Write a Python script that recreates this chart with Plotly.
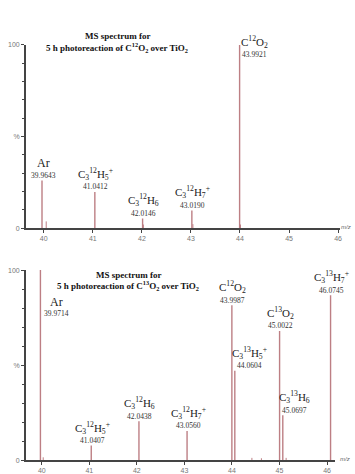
import plotly.graph_objects as go

# ---- data: 5 h photoreaction over TiO2, C12O2 feed (upper spectrum) ----
top_mz = [39.9643, 41.0412, 42.0146, 43.0190, 43.9921]
top_int = [26.0, 19.8, 5.3, 9.7, 100.0]
top_ions = [
    "Ar",
    "C<sub>3</sub><sup>12</sup>H<sub>5</sub><sup>+</sup>",
    "C<sub>3</sub><sup>12</sup>H<sub>6</sub>",
    "C<sub>3</sub><sup>12</sup>H<sub>7</sub><sup>+</sup>",
    "C<sup>12</sup>O<sub>2</sub>",
]
top_minor_mz = [40.05, 42.03, 43.04, 44.01]
top_minor_int = [3.7, 2.0, 2.2, 2.0]

# ---- data: C13O2 feed (lower spectrum) ----
bot_mz = [39.9714, 41.0407, 42.0438, 43.0560, 43.9987, 44.0604, 45.0022, 45.0697, 46.0745]
bot_int = [100.0, 7.7, 20.5, 15.4, 81.5, 47.0, 68.0, 23.6, 86.7]
bot_ions = [
    "Ar",
    "C<sub>3</sub><sup>12</sup>H<sub>5</sub><sup>+</sup>",
    "C<sub>3</sub><sup>12</sup>H<sub>6</sub>",
    "C<sub>3</sub><sup>12</sup>H<sub>7</sub><sup>+</sup>",
    "C<sup>12</sup>O<sub>2</sub>",
    "C<sub>3</sub><sup>13</sup>H<sub>5</sub><sup>+</sup>",
    "C<sup>13</sup>O<sub>2</sub>",
    "C<sub>3</sub><sup>13</sup>H<sub>6</sub>",
    "C<sub>3</sub><sup>13</sup>H<sub>7</sub><sup>+</sup>",
]
bot_minor_mz = [40.03, 44.42, 44.62, 45.14]
bot_minor_int = [1.5, 1.2, 1.0, 1.2]

x_ticks = [40, 41, 42, 43, 44, 45, 46]

W, H = 355, 474
PEAK = "#bd7f84"
AXIS = "#444444"
SERIF = "Liberation Serif"


def stems(xs, ys):
    px, py = [], []
    for x, y in zip(xs, ys):
        px += [x, x, None]
        py += [0, y, None]
    return px, py


fig = go.Figure()

for xs, ys, xa, ya, w in [
    (top_mz, top_int, "x", "y", 1.4),
    (top_minor_mz, top_minor_int, "x", "y", 1.0),
    (bot_mz, bot_int, "x2", "y2", 1.4),
    (bot_minor_mz, bot_minor_int, "x2", "y2", 1.0),
]:
    px, py = stems(xs, ys)
    fig.add_trace(go.Scatter(x=px, y=py, mode="lines", xaxis=xa, yaxis=ya,
                             line=dict(color=PEAK, width=w),
                             hoverinfo="skip", showlegend=False))

# label placement tweaks (pixel offsets) for crowded / full-scale peaks
top_place = {4: dict(dx=15, num=-10, ion=3)}
bot_place = {0: dict(dx=16, num=-43, ion=-32),
             5: dict(dx=15, num=5, ion=18),
             7: dict(dx=12, num=5, ion=18)}

annotations = []


def label_peaks(mzs, ints, ions, xa, ya, place):
    for i, (m, h, ion) in enumerate(zip(mzs, ints, ions)):
        p = place.get(i, dict(dx=1, num=5, ion=18))
        annotations.append(dict(
            x=m, y=h, xref=xa, yref=ya, text=f"{m:.4f}", showarrow=False,
            xanchor="center", yanchor="middle", xshift=p["dx"], yshift=p["num"],
            font=dict(family=SERIF, size=7.5, color="#333333")))
        annotations.append(dict(
            x=m, y=h, xref=xa, yref=ya, text=ion, showarrow=False,
            xanchor="center", yanchor="middle", xshift=p["dx"], yshift=p["ion"],
            font=dict(family=SERIF, size=11 if ion != "Ar" else 12, color="#222222")))


label_peaks(top_mz, top_int, top_ions, "x", "y", top_place)
label_peaks(bot_mz, bot_int, bot_ions, "x2", "y2", bot_place)


def px_x(v):
    return v / W


def px_y(v):
    return 1 - v / H


# panel titles
for cx, y1, y2, iso in [(118, 33, 45, "12"), (129, 278, 289, "13")]:
    annotations.append(dict(x=px_x(cx), y=px_y(y1), xref="paper", yref="paper",
                            text="<b>MS spectrum for</b>", showarrow=False,
                            xanchor="center", yanchor="middle",
                            font=dict(family=SERIF, size=9, color="#111111")))
    annotations.append(dict(x=px_x(cx), y=px_y(y2), xref="paper", yref="paper",
                            text=f"<b>5 h photoreaction of C<sup>{iso}</sup>O<sub>2</sub> over TiO<sub>2</sub></b>",
                            showarrow=False, xanchor="center", yanchor="middle",
                            font=dict(family=SERIF, size=9, color="#111111")))

# m/z axis captions
for cx, cy in [(348, 229), (347, 467)]:
    annotations.append(dict(x=px_x(cx), y=px_y(cy), xref="paper", yref="paper",
                            text="<i>m/z</i>", showarrow=False,
                            xanchor="center", yanchor="middle",
                            font=dict(family="Liberation Sans", size=6, color="#666666")))

tick_font = dict(family="Liberation Sans", size=7, color="#777777")

xcommon = dict(showline=True, linecolor=AXIS, linewidth=1.5, ticks="outside",
               ticklen=3, tickcolor=AXIS, tickwidth=1, tickvals=x_ticks,
               showgrid=False, zeroline=False, tickfont=tick_font)
ycommon = dict(showline=True, linecolor=AXIS, linewidth=1.5, ticks="outside",
               ticklen=3, tickcolor=AXIS, tickwidth=1, range=[0, 100],
               tickvals=[0, 50, 100], ticktext=["0", "%", "100"],
               minor=dict(tickvals=[10, 20, 30, 40, 60, 70, 80, 90],
                          ticks="outside", ticklen=2, tickcolor=AXIS),
               showgrid=False, zeroline=False, tickfont=tick_font)

fig.update_layout(
    width=W, height=H,
    margin=dict(l=0, r=0, t=0, b=0),
    paper_bgcolor="white", plot_bgcolor="white",
    xaxis=dict(domain=[26 / W, 342 / W], range=[39.635, 46.04], anchor="y", **xcommon),
    yaxis=dict(domain=[px_y(230), px_y(42)], anchor="x", **ycommon),
    xaxis2=dict(domain=[26 / W, 337 / W], range=[39.665, 46.17], anchor="y2", **xcommon),
    yaxis2=dict(domain=[px_y(468), px_y(273)], anchor="x2", **ycommon),
    annotations=annotations,
)

fig.write_html("out.html")
